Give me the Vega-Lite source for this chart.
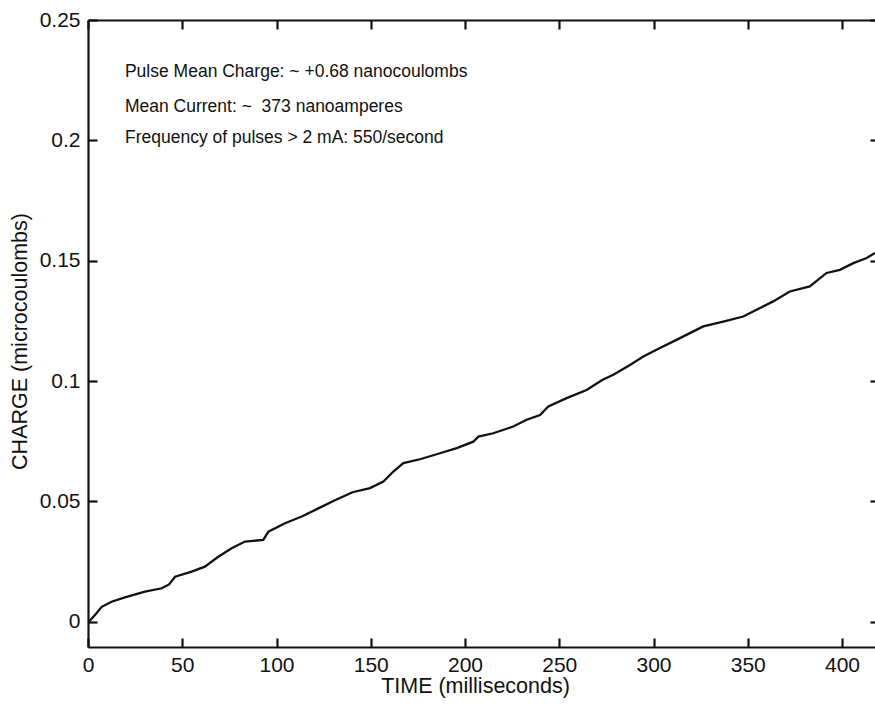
{
  "$schema": "https://vega.github.io/schema/vega-lite/v6.json",
  "autosize": {"type": "none"},
  "padding": {"left": 88, "top": 20, "right": 0, "bottom": 57},
  "width": 787,
  "height": 627,
  "background": "white",
  "config": {
    "view": {"stroke": null},
    "font": "Liberation Sans",
    "axis": {
      "grid": false,
      "domainColor": "#111",
      "domainWidth": 2.2,
      "tickColor": "#111",
      "tickWidth": 2.2,
      "labelColor": "#111",
      "titleColor": "#111",
      "labelFont": "Liberation Sans",
      "titleFont": "Liberation Sans",
      "labelFontSize": 21,
      "titleFontSize": 21.5,
      "titleFontWeight": "normal"
    }
  },
  "datasets": {
    "curve": [
      {"time": 0, "charge": 0.0},
      {"time": 1, "charge": 0.0005},
      {"time": 3.7, "charge": 0.0028},
      {"time": 7.3, "charge": 0.0062},
      {"time": 12.5, "charge": 0.0083},
      {"time": 19.6, "charge": 0.0101},
      {"time": 30.2, "charge": 0.0125},
      {"time": 39.1, "charge": 0.0139},
      {"time": 43, "charge": 0.0155},
      {"time": 46.2, "charge": 0.0187},
      {"time": 55, "charge": 0.0208},
      {"time": 62, "charge": 0.0229},
      {"time": 69.1, "charge": 0.027},
      {"time": 76.2, "charge": 0.0305},
      {"time": 83.3, "charge": 0.0333},
      {"time": 93, "charge": 0.034},
      {"time": 95.7, "charge": 0.0374},
      {"time": 104.5, "charge": 0.0409},
      {"time": 113.4, "charge": 0.0437},
      {"time": 122.2, "charge": 0.0471},
      {"time": 131, "charge": 0.0505},
      {"time": 140.3, "charge": 0.0538},
      {"time": 149.6, "charge": 0.0555},
      {"time": 156.7, "charge": 0.0582},
      {"time": 162, "charge": 0.0624},
      {"time": 167.3, "charge": 0.0659},
      {"time": 176.1, "charge": 0.0675},
      {"time": 186.7, "charge": 0.07},
      {"time": 195.6, "charge": 0.0721},
      {"time": 204.4, "charge": 0.0748},
      {"time": 207.1, "charge": 0.0769},
      {"time": 215, "charge": 0.0783},
      {"time": 225.6, "charge": 0.0811},
      {"time": 232.7, "charge": 0.0839},
      {"time": 239.8, "charge": 0.0859},
      {"time": 244.2, "charge": 0.0894},
      {"time": 253.9, "charge": 0.0929},
      {"time": 264.5, "charge": 0.0963},
      {"time": 273, "charge": 0.1005},
      {"time": 278.7, "charge": 0.1026},
      {"time": 287.5, "charge": 0.1067},
      {"time": 294.6, "charge": 0.1102},
      {"time": 303.4, "charge": 0.1137},
      {"time": 312.2, "charge": 0.1171},
      {"time": 319.3, "charge": 0.1199},
      {"time": 326.4, "charge": 0.1227},
      {"time": 337, "charge": 0.1247},
      {"time": 347.6, "charge": 0.1268},
      {"time": 354.7, "charge": 0.1296},
      {"time": 363.5, "charge": 0.1331},
      {"time": 372.3, "charge": 0.1372},
      {"time": 382.9, "charge": 0.1393},
      {"time": 391.8, "charge": 0.1449},
      {"time": 398.9, "charge": 0.1462},
      {"time": 406, "charge": 0.149},
      {"time": 413.1, "charge": 0.1511},
      {"time": 417.5, "charge": 0.1532}
    ],
    "notes": [
      {"time": 19.6, "charge": 0.2264, "label": "Pulse Mean Charge: ~ +0.68 nanocoulombs"},
      {"time": 19.6, "charge": 0.2119, "label": "Mean Current: ~\u00a0 373 nanoamperes"},
      {"time": 19.6, "charge": 0.1988, "label": "Frequency of pulses > 2 mA: 550/second"}
    ]
  },
  "resolve": {"axis": {"x": "independent", "y": "independent"}},
  "layer": [
    {
      "data": {"name": "curve"},
      "mark": {"type": "line", "color": "#111", "strokeWidth": 2.3, "clip": true, "interpolate": "linear"},
      "encoding": {
        "x": {
          "field": "time", "type": "quantitative",
          "scale": {"domain": [0, 417.5], "nice": false, "zero": false},
          "axis": {
            "orient": "bottom",
            "title": "TIME (milliseconds)",
            "values": [0, 50, 100, 150, 200, 250, 300, 350, 400],
            "format": "d",
            "tickSize": -9,
            "labelPadding": 16,
            "titlePadding": 0,
            "titleX": 387,
            "labelFlush": false
          }
        },
        "y": {
          "field": "charge", "type": "quantitative",
          "scale": {"domain": [-0.0105, 0.25], "nice": false, "zero": false},
          "axis": {
            "orient": "left",
            "title": "CHARGE (microcoulombs)",
            "values": [0, 0.05, 0.1, 0.15, 0.2, 0.25],
            "format": "~g",
            "tickSize": -9,
            "labelPadding": 17,
            "titlePadding": 8,
            "titleY": 321,
            "labelFlush": false
          }
        }
      }
    },
    {
      "data": {"name": "notes"},
      "mark": {"type": "text", "align": "left", "baseline": "alphabetic", "font": "Liberation Sans", "fontSize": 17.5, "color": "#111"},
      "encoding": {
        "x": {
          "field": "time", "type": "quantitative",
          "axis": {"orient": "top", "title": null, "labels": false, "values": [0, 50, 100, 150, 200, 250, 300, 350, 400], "tickSize": -9}
        },
        "y": {
          "field": "charge", "type": "quantitative",
          "axis": {"orient": "right", "title": null, "labels": false, "domain": false, "values": [0, 0.05, 0.1, 0.15, 0.2, 0.25], "tickSize": -5}
        },
        "text": {"field": "label", "type": "nominal"}
      }
    }
  ]
}
